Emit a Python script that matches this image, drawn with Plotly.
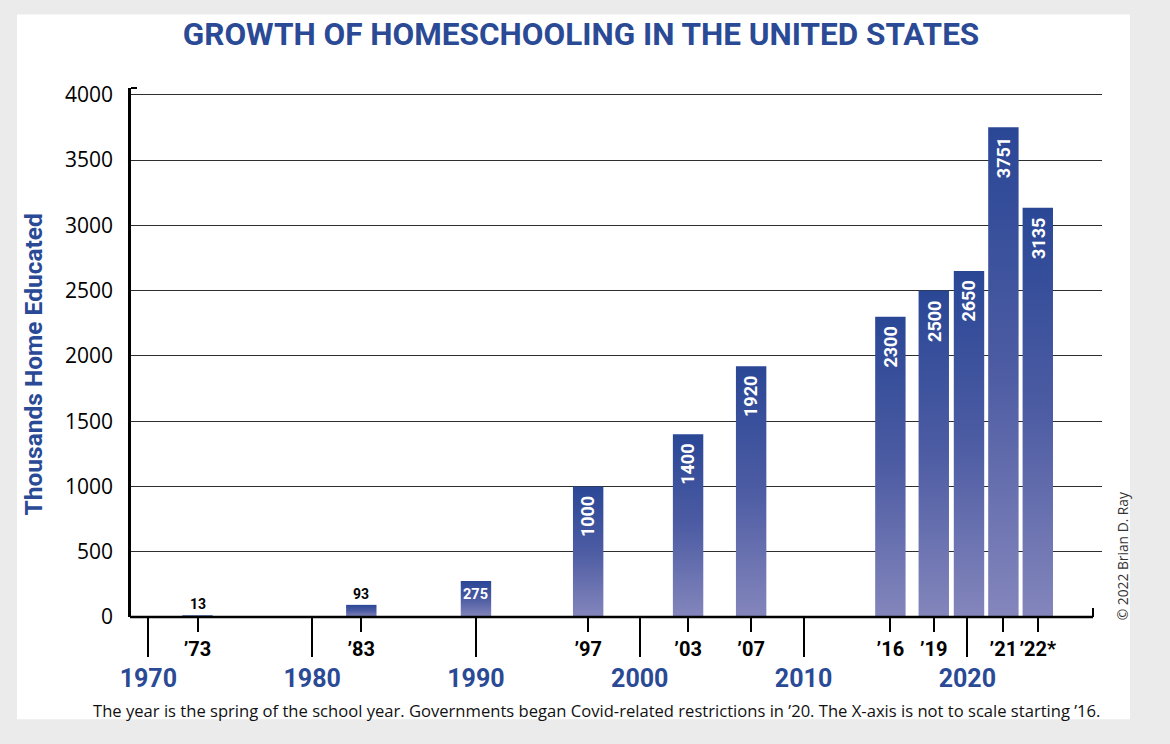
import plotly.graph_objects as go

# ---------------- data ----------------
years = [1973, 1983, 1990, 1997, 2003, 2007, 2016, 2019, 2020, 2021, 2022]
# position on the (partly not-to-scale) year axis
x_positions = [1973, 1983, 1990, 1996.85, 2002.95, 2006.8, 2015.3, 2017.95, 2020.1, 2022.2, 2024.3]
values = [13, 93, 275, 1000, 1400, 1920, 2300, 2500, 2650, 3751, 3135]
value_labels = ["13", "93", "275", "1000", "1400", "1920", "2300", "2500", "2650", "3751", "3135"]
year_labels = ["’73", "’83", "", "’97", "’03", "’07", "’16", "’19", "", "’21", "’22*"]
decade_ticks = [1970, 1980, 1990, 2000, 2010, 2020]
decade_labels = ["1970", "1980", "1990", "2000", "2010", "2020"]
y_ticks = [0, 500, 1000, 1500, 2000, 2500, 3000, 3500, 4000]
y_tick_labels = ["0", "500", "1000", "1500", "2000", "2500", "3000", "3500", "4000"]

TITLE = "GROWTH OF HOMESCHOOLING IN THE UNITED STATES"
Y_TITLE = "Thousands Home Educated"
FOOTER = ("The year is the spring of the school year. Governments began Covid-related "
          "restrictions in ’20. The X-axis is not to scale starting ’16.")
COPYRIGHT = "© 2022 Brian D. Ray"

# ---------------- style ----------------
W, H = 1170, 744
L, R, T, B = 131, 1102, 87.5, 616.7          # plot area in pixels
BAR_W = 1.856
BLUE = "#2a4a96"
NARROW = "Roboto, Liberation Sans, sans-serif"
SANS = "Open Sans, Noto Sans, sans-serif"


def px_x(p):
    return (p - L) / (R - L)


def px_y(p):
    return (B - p) / (B - T)


fig = go.Figure()

for xp, v in zip(x_positions, values):
    x0, x1 = xp - BAR_W / 2, xp + BAR_W / 2
    fig.add_trace(go.Scatter(
        x=[x0, x1, x1, x0, x0], y=[0, 0, v, v, 0],
        mode="none", fill="toself",
        fillgradient=dict(type="vertical",
                          colorscale=[[0, "#8486bc"], [0.5, "#4d5ca3"], [1, "#2a4796"]]),
        hoverinfo="skip", showlegend=False,
    ))

# year ticks only where the bar has its own year label
yr_vals = [xp for xp, lab in zip(x_positions, year_labels) if lab]
yr_text = [lab for lab in year_labels if lab]

# invisible trace to carry the secondary (year) axis
fig.add_trace(go.Scatter(x=yr_vals, y=[0] * len(yr_vals), xaxis="x2",
                         mode="markers", marker=dict(opacity=0), hoverinfo="skip",
                         showlegend=False))

annotations = []
for xp, v, lab in zip(x_positions, values, value_labels):
    if v >= 1000:
        annotations.append(dict(x=xp, y=v, xref="x", yref="y", text=lab, showarrow=False,
                                textangle=-90, yanchor="top", xanchor="center", yshift=-8,
                                font=dict(family=NARROW, size=18, color="white", weight="bold")))
    elif v >= 200:
        annotations.append(dict(x=xp, y=v, xref="x", yref="y", text=lab, showarrow=False,
                                yanchor="top", xanchor="center", yshift=-3,
                                font=dict(family=NARROW, size=14.5, color="white", weight="bold")))
    else:
        annotations.append(dict(x=xp, y=v, xref="x", yref="y", text=lab, showarrow=False,
                                yanchor="bottom", xanchor="center", yshift=1,
                                font=dict(family=NARROW, size=14, color="black", weight="bold")))

annotations += [
    dict(x=px_x(33), y=px_y(364), xref="paper", yref="paper", text=Y_TITLE, showarrow=False,
         textangle=-90, xanchor="center", yanchor="middle",
         font=dict(family=NARROW, size=24.5, color=BLUE, weight="bold")),
    dict(x=px_x(596), y=px_y(710), xref="paper", yref="paper", text=FOOTER, showarrow=False,
         xanchor="center", yanchor="middle",
         font=dict(family=SANS, size=16.6, color="#111111")),
    dict(x=px_x(1122), y=px_y(556), xref="paper", yref="paper", text=COPYRIGHT, showarrow=False,
         textangle=-90, xanchor="center", yanchor="middle",
         font=dict(family=SANS, size=13.8, color="#333333")),
]

shapes = [
    # white panel
    dict(type="rect", xref="paper", yref="paper", x0=px_x(17), x1=px_x(1130),
         y0=px_y(719), y1=px_y(14), fillcolor="white", line=dict(width=0), layer="below"),
    # bottom axis line
    dict(type="line", xref="paper", yref="paper", x0=px_x(L - 1), x1=px_x(1093), y0=0, y1=0,
         line=dict(color="black", width=2.5), layer="above"),
    # right end tick
    dict(type="line", xref="paper", yref="paper", x0=px_x(1093), x1=px_x(1093),
         y0=0, y1=px_y(B - 9), line=dict(color="black", width=2), layer="above"),
    # top tick of y axis
    dict(type="line", xref="paper", yref="paper", x0=0, x1=px_x(137), y0=1, y1=1,
         line=dict(color="black", width=2), layer="above"),
]

fig.update_layout(
    width=W, height=H,
    margin=dict(l=L, r=W - R, t=T, b=H - B, pad=0),
    paper_bgcolor="#ebebeb", plot_bgcolor="white",
    title=dict(text=TITLE, x=581 / W, xanchor="center", y=1 - 34 / H, yanchor="middle",
               font=dict(family=NARROW, size=31.5, color=BLUE, weight="bold")),
    xaxis=dict(range=[1968.94, 2028.22], tickmode="array", tickvals=decade_ticks,
               ticktext=decade_labels, ticks="outside", ticklen=39, tickwidth=2.2,
               tickcolor="black", showgrid=False, zeroline=False, showline=False,
               tickangle=0,
               tickfont=dict(family=NARROW, size=25, color=BLUE, weight="bold"),
               fixedrange=True),
    xaxis2=dict(range=[1968.94, 2028.22], overlaying="x", anchor="y", side="bottom",
                tickmode="array", tickvals=yr_vals, ticktext=yr_text,
                ticks="outside", ticklen=14, tickwidth=2.2, tickcolor="black",
                showgrid=False, zeroline=False, showline=False, tickangle=0,
                tickfont=dict(family=NARROW, size=20, color="black", weight="bold")),
    yaxis=dict(range=[0, 4052], tickmode="array", tickvals=y_ticks, ticktext=y_tick_labels,
               showgrid=True, gridcolor="#2e2e2e", gridwidth=1.2,
               zeroline=True, zerolinecolor="white", zerolinewidth=1,
               showline=True, linecolor="black", linewidth=2.5, ticks="",
               ticklabelstandoff=11,
               tickfont=dict(family=SANS, size=21, color="black")),
    annotations=annotations,
    shapes=shapes,
    showlegend=False,
)

fig.write_html("out.html", config={"displayModeBar": False},
               post_script="document.body.style.margin='0';document.body.style.overflow='hidden';")
